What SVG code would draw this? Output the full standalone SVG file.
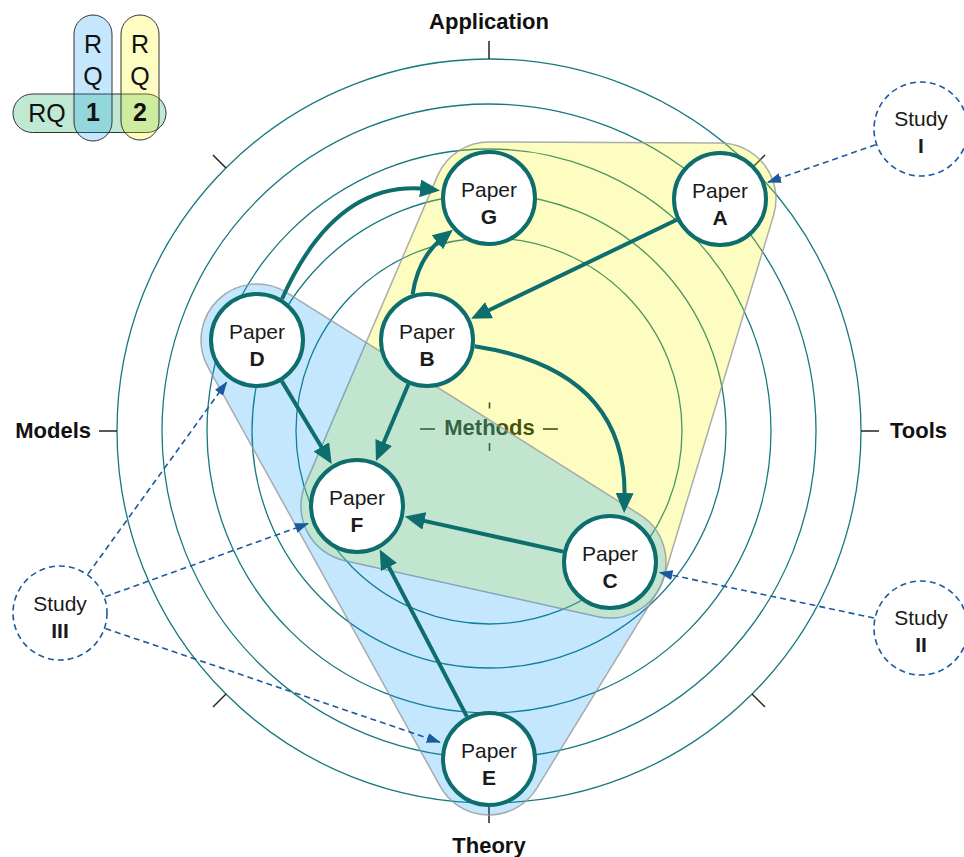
<svg xmlns="http://www.w3.org/2000/svg" width="964" height="857" viewBox="0 0 964 857">
<defs>
<style>
.ring{fill:none;stroke:#16797f;stroke-width:1.3}
.tick{stroke:#222;stroke-width:1.5}
.axis{font-family:"Liberation Sans",Arial,sans-serif;font-weight:bold;font-size:22px;fill:#111}
.hull{stroke:#999;stroke-width:1.5;stroke-opacity:0.8}
.paper circle{fill:#fff;stroke:#0e6e6e;stroke-width:4}
.study circle{fill:#fff;stroke:#1a5a9e;stroke-width:1.6;stroke-dasharray:6 4}
.lbl{font-family:"Liberation Sans",Arial,sans-serif;font-size:21px;fill:#1a1a1a;text-anchor:middle}
.b{font-weight:bold}
.arr{fill:none;stroke:#0e6e6e;stroke-width:4;marker-end:url(#ah)}
.darr{fill:none;stroke:#1a5a9e;stroke-width:1.6;stroke-dasharray:6 4;marker-end:url(#dh)}
.pill{stroke:#333;stroke-width:1}
.leg{font-family:"Liberation Sans",Arial,sans-serif;font-size:25px;fill:#111;text-anchor:middle}
</style>
<marker id="ah" markerUnits="userSpaceOnUse" markerWidth="20" markerHeight="18" viewBox="0 0 20 18" refX="6" refY="9" orient="auto"><path d="M0,0 L20,9 L0,18 z" fill="#0e6e6e"/></marker>
<marker id="dh" markerUnits="userSpaceOnUse" markerWidth="14" markerHeight="10" viewBox="0 0 14 10" refX="13" refY="5" orient="auto"><path d="M0,0 L14,5 L0,10 z" fill="#1a5a9e"/></marker>
</defs>

<g id="rings">
<circle class="ring" cx="489" cy="431" r="193"/>
<circle class="ring" cx="489" cy="431" r="237"/>
<circle class="ring" cx="489" cy="431" r="282"/>
<circle class="ring" cx="489" cy="431" r="327"/>
<circle class="ring" cx="489" cy="431" r="372"/>
</g>
<g id="ticks">
<line class="tick" x1="489" y1="59" x2="489" y2="41"/>
<line class="tick" x1="489" y1="803" x2="489" y2="823"/>
<line class="tick" x1="117" y1="431" x2="99" y2="431"/>
<line class="tick" x1="861" y1="431" x2="879" y2="431"/>
<line class="tick" x1="226" y1="168" x2="213" y2="155"/>
<line class="tick" x1="752" y1="168" x2="765" y2="155"/>
<line class="tick" x1="226" y1="694" x2="213" y2="707"/>
<line class="tick" x1="752" y1="694" x2="765" y2="707"/>
</g>
<g id="axis-labels">
<text class="axis" x="489" y="29" text-anchor="middle">Application</text>
<text class="axis" x="890" y="438">Tools</text>
<text class="axis" x="91" y="438" text-anchor="end">Models</text>
<text class="axis" x="489" y="853" text-anchor="middle">Theory</text>
</g>
<g id="methods" fill="#0c1f10" stroke="#0c1f10">
<text x="489.5" y="435" stroke="none" text-anchor="middle" font-family="Liberation Sans, Arial, sans-serif" font-weight="bold" font-size="22">Methods</text>
<line x1="420" y1="429" x2="435" y2="429" stroke-width="1.6"/>
<line x1="543" y1="429" x2="558" y2="429" stroke-width="1.6"/>
<line x1="489.5" y1="402.5" x2="489.5" y2="408.5" stroke-width="1.6"/>
<line x1="489.5" y1="443" x2="489.5" y2="451" stroke-width="1.6"/>
</g>

<g id="rq2-region">
<path class="hull" fill="#f5f800" fill-opacity="0.24" d="M489.2,142 L720.2,143 A56,56 0 0 1 773.6,215.2 L663.6,578.2 A56,56 0 0 1 597.9,616.7 L344.9,560.7 A56,56 0 0 1 305.5,483.9 L437.5,175.9 A56,56 0 0 1 489.2,142 Z"/>
</g>
<g id="rq1-region">
<path class="hull" fill="#0096fa" fill-opacity="0.23" d="M286.8,292.6 L639.8,514.6 A56,56 0 0 1 657.7,591.3 L536.7,788.3 A56,56 0 0 1 440,786.1 L208,367.1 A56,56 0 0 1 286.8,292.6 Z"/>
</g>

<g id="connectors">
<path class="arr" d="M676.8,219.8 L483.7,312.7"/>
<path class="arr" d="M281.8,381.1 L324.5,452"/>
<path class="arr" d="M408.4,384.2 L381.4,448"/>
<path class="arr" d="M563.1,551.6 L418.5,519.6"/>
<path class="arr" d="M466.8,716.4 L386.2,561.8"/>
<path class="arr" d="M412.6,294.2 Q418,258 442,238.5"/>
<path class="arr" d="M282,299 Q335,180 426,189"/>
<path class="arr" d="M474.6,346.2 Q628,370 624.5,499"/>
<path class="darr" d="M875.7,144.8 L768,182.2"/>
<path class="darr" d="M874,618 L659.5,572.5"/>
<path class="darr" d="M88,574 L226.6,382.2"/>
<path class="darr" d="M105.2,596.7 L308,523.6"/>
<path class="darr" d="M105.4,628.5 L439.8,742.2"/>
</g>

<g id="paper-G" class="paper"><circle cx="489" cy="198" r="46"/><text class="lbl" x="489" y="197">Paper</text><text class="lbl b" x="489" y="224">G</text></g>
<g id="paper-A" class="paper"><circle cx="720" cy="199" r="46"/><text class="lbl" x="720" y="198">Paper</text><text class="lbl b" x="720" y="225">A</text></g>
<g id="paper-B" class="paper"><circle cx="427" cy="340" r="46"/><text class="lbl" x="427" y="339">Paper</text><text class="lbl b" x="427" y="366">B</text></g>
<g id="paper-D" class="paper"><circle cx="257" cy="340" r="46"/><text class="lbl" x="257" y="339">Paper</text><text class="lbl b" x="257" y="366">D</text></g>
<g id="paper-F" class="paper"><circle cx="357" cy="506" r="46"/><text class="lbl" x="357" y="505">Paper</text><text class="lbl b" x="357" y="532">F</text></g>
<g id="paper-C" class="paper"><circle cx="610" cy="562" r="46"/><text class="lbl" x="610" y="561">Paper</text><text class="lbl b" x="610" y="588">C</text></g>
<g id="paper-E" class="paper"><circle cx="489" cy="759" r="46"/><text class="lbl" x="489" y="758">Paper</text><text class="lbl b" x="489" y="785">E</text></g>

<g id="study-I" class="study"><circle cx="921" cy="129" r="47"/><text class="lbl" x="921" y="126">Study</text><text class="lbl b" x="921" y="153">I</text></g>
<g id="study-II" class="study"><circle cx="921" cy="628" r="47"/><text class="lbl" x="921" y="625">Study</text><text class="lbl b" x="921" y="652">II</text></g>
<g id="study-III" class="study"><circle cx="60" cy="613" r="47"/><text class="lbl" x="60" y="611">Study</text><text class="lbl b" x="60" y="638">III</text></g>

<g id="legend">
<rect class="pill" x="13" y="94" width="153" height="38.5" rx="19.25" fill="#c0e9d3"/>
<rect class="pill" x="74" y="15" width="38" height="126" rx="19" fill="#0096fa" fill-opacity="0.23"/>
<rect class="pill" x="121" y="15" width="38" height="125" rx="19" fill="#f5f800" fill-opacity="0.24"/>
<text class="leg" x="47" y="122">RQ</text>
<text class="leg" x="93" y="53">R</text>
<text class="leg" x="93" y="85">Q</text>
<text class="leg b" x="93" y="121">1</text>
<text class="leg" x="140" y="53">R</text>
<text class="leg" x="140" y="85">Q</text>
<text class="leg b" x="140" y="121">2</text>
</g>
</svg>
